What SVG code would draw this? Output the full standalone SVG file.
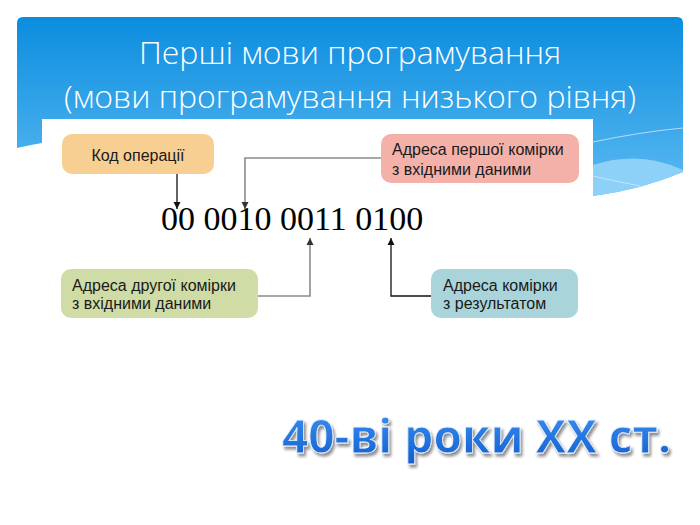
<svg xmlns="http://www.w3.org/2000/svg" width="700" height="525" viewBox="0 0 700 525">
<defs>
<linearGradient id="hdr" x1="0" y1="0" x2="0" y2="1">
<stop offset="0" stop-color="#0b8ddf"/>
<stop offset="1" stop-color="#5cbaf1"/>
</linearGradient>
<linearGradient id="big" x1="0" y1="0" x2="0" y2="1">
<stop offset="0" stop-color="#3f95f5"/>
<stop offset="1" stop-color="#105ccc"/>
</linearGradient>
<filter id="sh" x="-5%" y="-20%" width="110%" height="150%">
<feGaussianBlur in="SourceAlpha" stdDeviation="1.5"/>
<feOffset dx="2" dy="3" result="b"/>
<feComponentTransfer><feFuncA type="linear" slope="0.45"/></feComponentTransfer>
<feMerge><feMergeNode/><feMergeNode in="SourceGraphic"/></feMerge>
</filter>
<marker id="ah" viewBox="0 0 10 10" refX="10" refY="5" markerWidth="7" markerHeight="8" markerUnits="userSpaceOnUse" orient="auto">
<path d="M0,0 L10,5 L0,10 z" fill="#111"/>
</marker>
<marker id="ahg" viewBox="0 0 10 10" refX="10" refY="5" markerWidth="7" markerHeight="8" markerUnits="userSpaceOnUse" orient="auto">
<path d="M0,0 L10,5 L0,10 z" fill="#333"/>
</marker>
</defs>
<style>
.title{font-family:"Open Sans","DejaVu Sans",sans-serif;font-weight:300;font-size:32px;fill:#fff;text-anchor:middle}
.lbl{font-family:"Liberation Sans",Arial,sans-serif;font-size:16px;fill:#1a1a1a}
.bin{font-family:"Liberation Serif","Times New Roman",serif;font-size:34px;fill:#000}
.blk{fill:none;stroke:#111;stroke-width:1.3}
.gry{fill:none;stroke:#8a8a8a;stroke-width:1.6}
.big{font-family:"Open Sans","DejaVu Sans",sans-serif;font-weight:700;font-size:46px;fill:url(#big);stroke:#e8f0fb;stroke-width:0.8}
</style>
<rect width="700" height="525" fill="#fff"/>
<g id="header">
<path d="M23,17 H677 Q683,17 683,23 V172 Q640,190 593,196 L593,150 L42,143 Q30,145 17,148 V23 Q17,17 23,17 Z" fill="url(#hdr)"/>
<path d="M593,165 Q640,150 683,170 V172 Q640,190 593,196 Z" fill="#8dd0f8"/>
<path d="M593,142 Q640,132 683,128" stroke="#cfe9fb" stroke-width="0.8" fill="none"/>
<path d="M593,176 Q610,180 640,186" stroke="#cfe9fb" stroke-width="0.8" fill="none"/>
<text class="title" x="350" y="64">Перші мови програмування</text>
<text class="title" x="350" y="108">(мови програмування низького рівня)</text>
</g>
<rect x="42" y="119" width="551" height="406" fill="#fff"/>
<g id="connectors">
<line class="blk" x1="177" y1="174" x2="177" y2="209" marker-end="url(#ah)"/>
<polyline class="gry" points="381,158 245,158 245,209" marker-end="url(#ahg)"/>
<polyline class="gry" points="258,296 310,296 310,238" marker-end="url(#ahg)"/>
<polyline class="blk" points="431,296 391,296 391,238" marker-end="url(#ah)"/>
</g>
<g id="opcode">
<rect x="62" y="134" width="152" height="40" rx="10" fill="#f8cf93"/>
<text class="lbl" x="138" y="161" text-anchor="middle">Код операції</text>
</g>
<g id="addr1">
<rect x="381" y="134" width="198" height="49" rx="10" fill="#f4b1aa"/>
<text class="lbl" x="392" y="155">Адреса першої комірки</text>
<text class="lbl" x="392" y="175">з вхідними даними</text>
</g>
<g id="addr2">
<rect x="61" y="269" width="197" height="49" rx="10" fill="#d0dca5"/>
<text class="lbl" x="72" y="291">Адреса другої комірки</text>
<text class="lbl" x="72" y="309">з вхідними даними</text>
</g>
<g id="result">
<rect x="431" y="269" width="147" height="49" rx="10" fill="#a9d5da"/>
<text class="lbl" x="443" y="291">Адреса комірки</text>
<text class="lbl" x="443" y="309">з результатом</text>
</g>
<g id="binary">
<text class="bin" x="161" y="230">00 0010 0011 0100</text>
</g>
<g id="era">
<text class="big" x="282" y="453" filter="url(#sh)">40-ві роки XX ст.</text>
</g>
</svg>
